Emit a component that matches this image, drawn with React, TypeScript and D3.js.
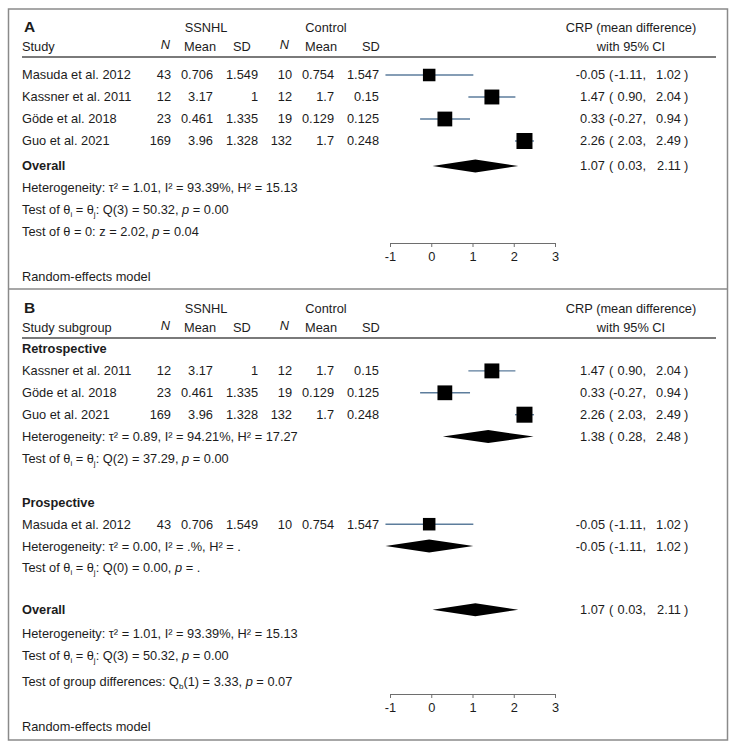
import * as d3 from "d3";
import { useRef, useEffect } from "react";

// study level data
const studies = ["Masuda et al. 2012", "Kassner et al. 2011", "Göde et al. 2018", "Guo et al. 2021"];
const ssnhlN = ["43", "12", "23", "169"];
const ssnhlMean = ["0.706", "3.17", "0.461", "3.96"];
const ssnhlSD = ["1.549", "1", "1.335", "1.328"];
const controlN = ["10", "12", "19", "132"];
const controlMean = ["0.754", "1.7", "0.129", "1.7"];
const controlSD = ["1.547", "0.15", "0.125", "0.248"];
const effect = [-0.05, 1.47, 0.33, 2.26];
const lower = [-1.11, 0.9, -0.27, 2.03];
const upper = [1.02, 2.04, 0.94, 2.49];
const weights = [21.5, 25.6, 25.4, 27.5];

// pooled estimates [est, lo, hi]
const overall = [1.07, 0.03, 2.11];
const retrospective = [1.38, 0.28, 2.48];
const prospective = [-0.05, -1.11, 1.02];

const retroIdx = [1, 2, 3];
const prospIdx = [0];

const axisTicks = [-1, 0, 1, 2, 3];

const FONT = "'Liberation Sans', Arial, Helvetica, sans-serif";
const FS = 12.8;
const INK = "#1c1c1c";

const x = d3.scaleLinear().domain([-1, 3]).range([390, 555]);
const box = d3.scaleLinear().domain([0, 27.5]).range([0, 16]);

const cols = { n1: 171, m1: 213, sd1: 258, n2: 292, m2: 334, sd2: 379 };

const fmt = (v) => (Math.abs(v) < 0.005 ? "0.00" : d3.format(".2f")(v).replace("−", "-"));

function Txt({ x, y, children, anchor = "start", bold = false, italic = false, size = FS }) {
  return (
    <text
      x={x}
      y={y}
      dy="0.35em"
      textAnchor={anchor}
      fontWeight={bold ? "bold" : "normal"}
      fontStyle={italic ? "italic" : "normal"}
      fontSize={size}
      fill={INK}
    >
      {children}
    </text>
  );
}

// segments: [text, kind] kind: "" | "i" | "sub"
function Rich({ x, y, segs }) {
  let shifted = false;
  return (
    <text x={x} y={y} dy="0.35em" fontSize={FS} fill={INK}>
      {segs.map(([t, k], i) => {
        if (k === "sub") {
          shifted = true;
          return (
            <tspan key={i} dy={3} fontSize={8}>
              {t}
            </tspan>
          );
        }
        const dy = shifted ? -3 : undefined;
        shifted = false;
        return (
          <tspan key={i} dy={dy} fontStyle={k === "i" ? "italic" : "normal"}>
            {t}
          </tspan>
        );
      })}
    </text>
  );
}

function CIText({ y, est, lo, hi }) {
  return (
    <g>
      <Txt x={605} y={y} anchor="end">{fmt(est)}</Txt>
      <Txt x={609} y={y}>(</Txt>
      <Txt x={646} y={y} anchor="end">{fmt(lo) + ","}</Txt>
      <Txt x={681} y={y} anchor="end">{fmt(hi)}</Txt>
      <Txt x={684} y={y}>)</Txt>
    </g>
  );
}

function StudyRow({ i, y }) {
  const s = box(weights[i]);
  return (
    <g>
      <Txt x={22} y={y}>{studies[i]}</Txt>
      <Txt x={cols.n1} y={y} anchor="end">{ssnhlN[i]}</Txt>
      <Txt x={cols.m1} y={y} anchor="end">{ssnhlMean[i]}</Txt>
      <Txt x={cols.sd1} y={y} anchor="end">{ssnhlSD[i]}</Txt>
      <Txt x={cols.n2} y={y} anchor="end">{controlN[i]}</Txt>
      <Txt x={cols.m2} y={y} anchor="end">{controlMean[i]}</Txt>
      <Txt x={cols.sd2} y={y} anchor="end">{controlSD[i]}</Txt>
      <line x1={x(lower[i])} x2={x(upper[i])} y1={y} y2={y} stroke="#5d7d9c" strokeWidth={1.4} />
      <rect x={x(effect[i]) - s / 2} y={y - s / 2} width={s} height={s} fill="#000" />
      <CIText y={y} est={effect[i]} lo={lower[i]} hi={upper[i]} />
    </g>
  );
}

function Diamond({ y, est }) {
  const [e, lo, hi] = est;
  const h = 6.5;
  const d = `M${x(lo)},${y}L${x(e)},${y - h}L${x(hi)},${y}L${x(e)},${y + h}Z`;
  return (
    <g>
      <path d={d} fill="#000" />
      <CIText y={y} est={e} lo={lo} hi={hi} />
    </g>
  );
}

function Header({ top, label, first }) {
  return (
    <g>
      <Txt x={24} y={top + 18} bold size={15.5}>{label}</Txt>
      <Txt x={206} y={top + 19} anchor="middle">SSNHL</Txt>
      <Txt x={326} y={top + 19} anchor="middle">Control</Txt>
      <Txt x={631} y={top + 19} anchor="middle">CRP (mean difference)</Txt>
      <Txt x={22} y={top + 38}>{first}</Txt>
      <Txt x={170} y={top + 36} anchor="end" italic>N</Txt>
      <Txt x={184} y={top + 38}>Mean</Txt>
      <Txt x={233} y={top + 38}>SD</Txt>
      <Txt x={289} y={top + 36} anchor="end" italic>N</Txt>
      <Txt x={305} y={top + 38}>Mean</Txt>
      <Txt x={362} y={top + 38}>SD</Txt>
      <Txt x={631} y={top + 38} anchor="middle">with 95% CI</Txt>
      <line x1={22} x2={716} y1={top + 48} y2={top + 48} stroke="#7a7a7a" strokeWidth={2} />
    </g>
  );
}

function Axis({ y }) {
  const ref = useRef(null);
  useEffect(() => {
    const g = d3.select(ref.current);
    g.call(
      d3
        .axisBottom(x)
        .tickValues(axisTicks)
        .tickSize(4)
        .tickSizeOuter(4)
        .tickPadding(5)
        .tickFormat((d) => String(d))
    );
    g.select(".domain").attr("stroke", "#6e6e6e");
    g.selectAll(".tick line").attr("stroke", "#6e6e6e");
    g.selectAll(".tick text").attr("font-size", FS).attr("fill", INK).attr("font-family", FONT);
  }, []);
  return <g ref={ref} transform={`translate(0,${y})`} />;
}

const heteroA = [["Heterogeneity: τ² = 1.01, I² = 93.39%, H² = 15.13", ""]];
const qTest = (df, q, p) => [
  ["Test of θ", ""],
  ["i", "sub"],
  [" = θ", ""],
  ["j", "sub"],
  [`: Q(${df}) = ${q}, `, ""],
  ["p", "i"],
  [` = ${p}`, ""],
];

export default function App() {
  // panel A rows
  const yA = (k) => 75 + k * 22 + (k >= 4 ? 3 : 0);
  // panel B rows
  const yB = (k) => 349 + k * 21.9;

  return (
    <svg
      width={734}
      height={749}
      style={{ position: "absolute", left: 0, top: 0, background: "#fff" }}
      fontFamily={FONT}
    >
      <rect x={0} y={0} width={734} height={749} fill="#fff" />
      <rect x={8.5} y={9} width={719} height={731} fill="none" stroke="#8a8a8a" strokeWidth={1.5} />
      <line x1={8.5} x2={727.5} y1={289} y2={289} stroke="#8a8a8a" strokeWidth={1.5} />

      {/* Panel A */}
      <Header top={9} label="A" first="Study" />
      {studies.map((_, i) => (
        <StudyRow key={i} i={i} y={yA(i)} />
      ))}
      <Txt x={22} y={yA(4)} bold>Overall</Txt>
      <Diamond y={yA(4)} est={overall} />
      <Rich x={22} y={yA(5)} segs={heteroA} />
      <Rich x={22} y={yA(6)} segs={qTest(3, "50.32", "0.00")} />
      <Rich x={22} y={yA(7)} segs={[["Test of θ = 0: z = 2.02, ", ""], ["p", "i"], [" = 0.04", ""]]} />
      <Axis y={243} />
      <Txt x={22} y={277}>Random-effects model</Txt>

      {/* Panel B */}
      <Header top={290} label="B" first="Study subgroup" />
      <Txt x={22} y={yB(0)} bold>Retrospective</Txt>
      {retroIdx.map((i, k) => (
        <StudyRow key={i} i={i} y={yB(1 + k)} />
      ))}
      <Diamond y={yB(4)} est={retrospective} />
      <Rich x={22} y={yB(4)} segs={[["Heterogeneity: τ² = 0.89, I² = 94.21%, H² = 17.27", ""]]} />
      <Rich x={22} y={yB(5)} segs={qTest(2, "37.29", "0.00")} />

      <Txt x={22} y={yB(7)} bold>Prospective</Txt>
      {prospIdx.map((i, k) => (
        <StudyRow key={i} i={i} y={yB(8 + k)} />
      ))}
      <Diamond y={yB(9)} est={prospective} />
      <Rich x={22} y={yB(9)} segs={[["Heterogeneity: τ² = 0.00, I² = .%, H² = .", ""]]} />
      <Rich x={22} y={yB(10)} segs={qTest(0, "0.00", ".")} />

      <Txt x={22} y={yB(12) - 2} bold>Overall</Txt>
      <Diamond y={yB(12) - 2} est={overall} />
      <Rich x={22} y={yB(13)} segs={heteroA} />
      <Rich x={22} y={yB(14)} segs={qTest(3, "50.32", "0.00")} />
      <Rich
        x={22}
        y={yB(15) + 4}
        segs={[["Test of group differences: Q", ""], ["b", "sub"], ["(1) = 3.33, ", ""], ["p", "i"], [" = 0.07", ""]]}
      />
      <Axis y={694} />
      <Txt x={22} y={727}>Random-effects model</Txt>
    </svg>
  );
}
